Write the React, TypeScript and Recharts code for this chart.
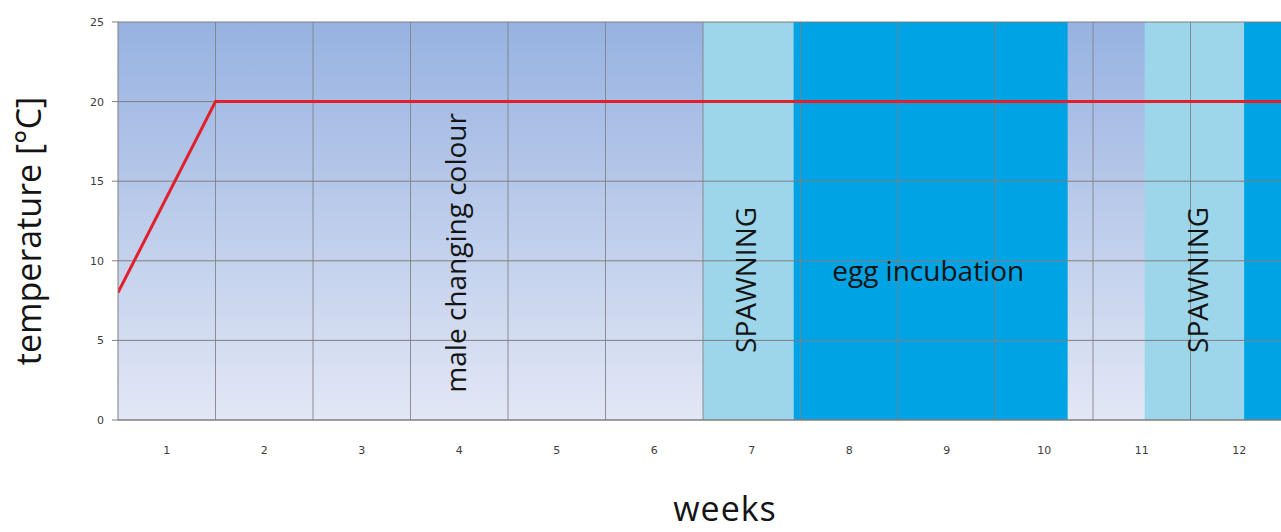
import React from 'react';
import { LineChart, Line, XAxis, YAxis, CartesianGrid, ReferenceArea, ReferenceDot, ReferenceLine } from 'recharts';

const weekBounds = [0, 1, 2, 3, 4, 5, 6, 7, 8, 9, 10, 11, 12];
const weekMids = [0.5, 1.5, 2.5, 3.5, 4.5, 5.5, 6.5, 7.5, 8.5, 9.5, 10.5, 11.5];
const weekLabels = ['1', '2', '3', '4', '5', '6', '7', '8', '9', '10', '11', '12'];
const tempTicks = [0, 5, 10, 15, 20, 25];

// water temperature: ramp over the first week, then held at 20
const tempWeek = [0, 1, 12];
const tempValue = [8, 20, 20];

// phases shaded behind the line
const phaseFrom = [6, 6.93, 10.53, 11.55];
const phaseTo = [6.93, 9.74, 11.55, 12];
const phaseType = ['spawning', 'incubation', 'spawning', 'incubation'];

const noteText = ['male changing colour', 'SPAWNING', 'egg incubation', 'SPAWNING'];
const noteWeek = [3.46, 6.43, 8.31, 11.07];
const noteTemp = [10.5, 8.8, 9.4, 8.8];
const noteVertical = [true, true, false, true];

const phaseColors: Record<string, string> = {
  spawning: '#9dd6ea',
  incubation: '#00a3e4',
};

const gridColor = '#7f7f7f';
const labelFont = '"Open Sans", sans-serif';
const tickStyle = { fontSize: 11, fontFamily: '"DejaVu Sans", sans-serif', fill: '#3c3c3c' };

const NoteLabel = (props: any) => {
  const { viewBox, value, vertical } = props;
  const cx = viewBox.x + viewBox.width / 2;
  const cy = viewBox.y + viewBox.height / 2;
  return (
    <text
      x={cx}
      y={cy}
      textAnchor="middle"
      dominantBaseline="central"
      transform={vertical ? `rotate(-90 ${cx} ${cy})` : undefined}
      fontFamily={labelFont}
      fontSize={28}
      fill="#141414"
    >
      {value}
    </text>
  );
};

const App: React.FC = () => {
  const data = tempWeek.map((w, i) => ({ week: w, temp: tempValue[i] }));

  return (
    <div
      style={{
        position: 'fixed',
        left: 0,
        top: 0,
        width: 1281,
        height: 532,
        overflow: 'hidden',
        background: '#fff',
      }}
    >
      <LineChart width={1300} height={532} data={data} margin={{ top: 22, right: 12, bottom: 0, left: 0 }}>
        <defs>
          <linearGradient id="plotBg" x1="0" y1="0" x2="0" y2="1">
            <stop offset="0%" stopColor="#97b2e1" />
            <stop offset="100%" stopColor="#e2e7f5" />
          </linearGradient>
        </defs>
        <CartesianGrid xAxisId="bounds" fill="url(#plotBg)" fillOpacity={1} horizontal={false} vertical={false} />
        {phaseFrom.map((from, i) => (
          <ReferenceArea
            key={`phase-${i}`}
            xAxisId="bounds"
            x1={from}
            x2={phaseTo[i]}
            y1={0}
            y2={25}
            fill={phaseColors[phaseType[i]]}
            fillOpacity={1}
            stroke="none"
            ifOverflow="visible"
          />
        ))}
        <CartesianGrid
          xAxisId="bounds"
          stroke={gridColor}
          strokeDasharray=""
          vertical={false}
          horizontalValues={tempTicks}
          {...({ zIndex: 150 } as any)}
        />
        {weekBounds.slice(1).map((b) => (
          <ReferenceLine key={`wk-${b}`} xAxisId="bounds" x={b} stroke={gridColor} strokeOpacity={0.85} ifOverflow="visible" />
        ))}
        <XAxis
          xAxisId="bounds"
          dataKey="week"
          type="number"
          domain={[0, 12]}
          ticks={weekBounds}
          tick={false}
          tickSize={6}
          stroke={gridColor}
          height={8}
          allowDataOverflow
        />
        <XAxis
          xAxisId="mids"
          dataKey="week"
          type="number"
          domain={[0, 12]}
          ticks={weekMids}
          interval={0}
          allowDataOverflow
          tickFormatter={(v: number) => weekLabels[Math.floor(v)]}
          axisLine={false}
          tickLine={false}
          tickMargin={12}
          height={104}
          tick={tickStyle}
          label={{
            value: 'weeks',
            content: (p: any) => (
              <text
                x={725}
                y={p.viewBox.y + p.viewBox.height - 11}
                textAnchor="middle"
                fontFamily={labelFont}
                fontSize={34}
                letterSpacing={1}
                fill="#141414"
              >
                weeks
              </text>
            ),
          }}
        />
        <YAxis
          type="number"
          domain={[0, 25]}
          ticks={tempTicks}
          width={118}
          tickSize={6}
          tickMargin={8}
          stroke={gridColor}
          tick={tickStyle}
          label={{
            value: 'temperature [°C]',
            content: (p: any) => {
              const cx = 28;
              const cy = p.viewBox.y + p.viewBox.height / 2 + 10;
              return (
                <text
                  x={cx}
                  y={cy}
                  textAnchor="middle"
                  dominantBaseline="central"
                  transform={`rotate(-90 ${cx} ${cy})`}
                  fontFamily={labelFont}
                  fontSize={34}
                  fill="#141414"
                >
                  temperature [°C]
                </text>
              );
            },
          }}
        />
        <Line
          xAxisId="bounds"
          type="linear"
          dataKey="temp"
          stroke="#e2202b"
          strokeWidth={3}
          dot={false}
          activeDot={false}
          isAnimationActive={false}
        />
        {noteText.map((t, i) => (
          <ReferenceDot
            key={`note-${i}`}
            xAxisId="bounds"
            x={noteWeek[i]}
            y={noteTemp[i]}
            r={0}
            fill="none"
            stroke="none"
            label={{ value: t, content: (p: any) => <NoteLabel {...p} value={t} vertical={noteVertical[i]} /> }}
          />
        ))}
      </LineChart>
    </div>
  );
};

export default App;
